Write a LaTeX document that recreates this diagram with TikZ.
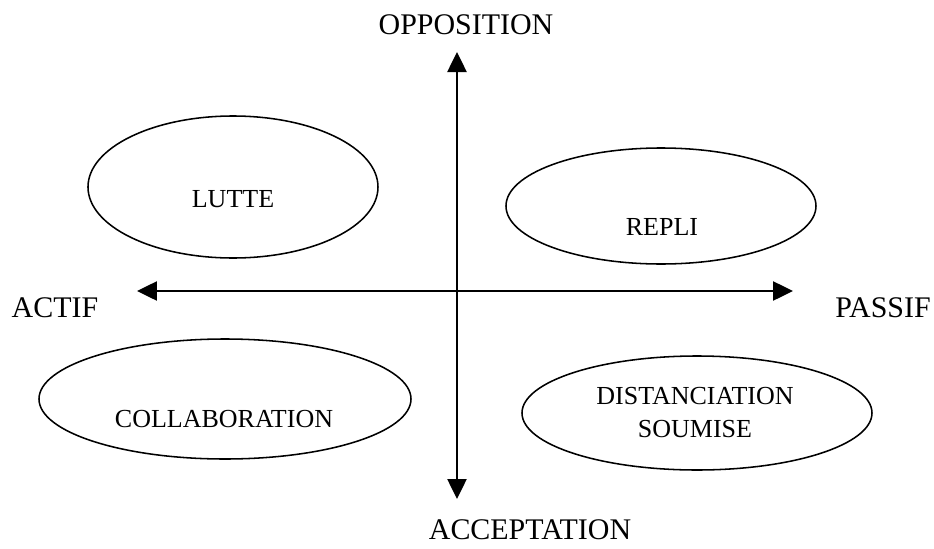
\documentclass[tikz,border=0pt]{standalone}
\usepackage{fontspec}
\setmainfont{Liberation Serif}
\usepackage{tikz}
\usetikzlibrary{arrows.meta,positioning}

\begin{document}
\begin{tikzpicture}[scale=1,
  axe/.style={line width=1.3pt,-{Triangle[length=5mm,width=4.8mm]}},
  pole/.style={font=\fontsize{21.3}{24}\selectfont,inner sep=1pt},
  zone/.style={line width=1.1pt},
  quad/.style={font=\fontsize{18.5}{23.5}\selectfont,align=center}]
  \useasboundingbox (-11.425,-6.425) rectangle (11.925,7.275);
  \coordinate (O) at (0,0);
  \coordinate (N) at (0,5.975);
  \coordinate (S) at (0,-5.2);
  \coordinate (W) at (-8,0);
  \coordinate (E) at (8.4,0);
  \draw[axe] (O)--(N);\draw[axe] (O)--(S);
  \draw[axe] (O)--(W);\draw[axe] (O)--(E);
  \node[pole] (opp) at (0.225,6.65) {OPPOSITION};
  \node[pole] (acc) at (1.825,-5.98) {ACCEPTATION};
  \node[pole] (act) at (-10.05,-0.425) {ACTIF};
  \node[pole] (pas) at (10.65,-0.425) {PASSIF};
  \draw[zone] (-5.6,2.6) ellipse (3.625 and 1.775);
  \draw[zone] (5.1,2.125) ellipse (3.875 and 1.45);
  \draw[zone] (-5.8,-2.7) ellipse (4.65 and 1.5);
  \draw[zone] (6.0,-3.05) ellipse (4.375 and 1.425);
  \node[quad] (lutte) at (-5.6,2.3) {LUTTE};
  \node[quad] (repli) at (5.125,1.6) {REPLI};
  \node[quad] (collab) at (-5.825,-3.2) {COLLABORATION};
  \node[quad] (dist) at (5.95,-3.04) {DISTANCIATION\\SOUMISE};
\end{tikzpicture}
\end{document}
